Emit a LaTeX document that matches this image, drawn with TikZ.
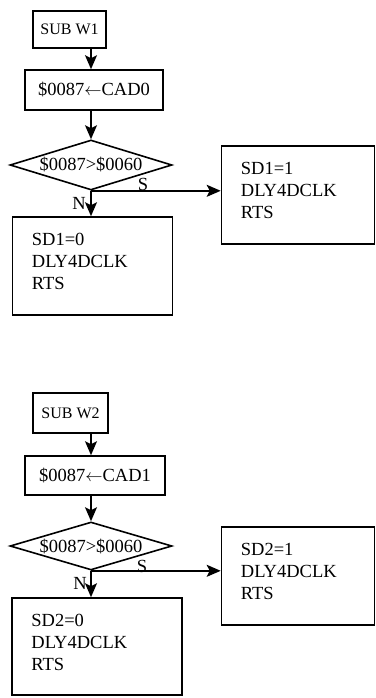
\documentclass[tikz,border=0pt]{standalone}
\usepackage{fontspec}
\setmainfont{Liberation Serif}
\usetikzlibrary{shapes.geometric,arrows.meta}

\tikzset{
  every node/.style={font=\fontsize{18.5}{22}\selectfont},
  procbox/.style={draw, line width=1.6pt, inner sep=0pt},
  subbox/.style={procbox, font=\fontsize{16}{19}\selectfont},
  testbox/.style={draw, diamond, line width=1.6pt, inner sep=0pt, aspect=3.2},
  boxtext/.style={anchor=north west, inner sep=0pt, align=left},
  flow/.style={line width=1.6pt, -{Stealth[length=14pt,width=12pt,inset=3pt]}}
}

\begin{document}
\begin{tikzpicture}[x=1pt, y=-1pt]
                \useasboundingbox (0,0) rectangle (375,698);
                % Routine W1:
                \node[subbox, minimum width=73pt, minimum height=37pt](W1) at (69.5, 29.5){SUB W1};
                \node[procbox, minimum width=138pt, minimum height=40pt](C0) at (94, 90){\$0087$\leftarrow$CAD0};
                \node[testbox, minimum width=162pt, minimum height=50pt](D1) at (91, 165){\$0087>\$0060};
                \node[procbox, minimum width=160pt, minimum height=98pt](N1) at (92.5, 266){};
                \node[boxtext](N1t) at ([shift={(20,17)}]N1.north west){SD1=0\\DLY4DCLK\\RTS};
                \node[procbox, minimum width=153pt, minimum height=98pt](S1) at (298, 195){};
                \node[boxtext](S1t) at ([shift={(20,17)}]S1.north west){SD1=1\\DLY4DCLK\\RTS};
                \node(S1l) at (143, 184){S};
                \node(N1l) at (79, 203){N};
                \draw[flow] (W1.south -| D1.north) -- (C0.north -| D1.north);
                \draw[flow] (C0.south -| D1.north) -- (D1.north);
                \draw[flow] (D1.south) -- (N1.north -| D1.south);
                \draw[flow] (D1.south) -- (S1.west |- D1.south);
                % Routine W2:
                \node[subbox, minimum width=75pt, minimum height=40pt](W2) at (70.5, 413){SUB W2};
                \node[procbox, minimum width=140pt, minimum height=39pt](C1) at (95, 475.5){\$0087$\leftarrow$CAD1};
                \node[testbox, minimum width=162pt, minimum height=48pt](D2) at (91, 546){\$0087>\$0060};
                \node[procbox, minimum width=170pt, minimum height=97pt](N2) at (97, 646.5){};
                \node[boxtext](N2t) at ([shift={(20,17)}]N2.north west){SD2=0\\DLY4DCLK\\RTS};
                \node[procbox, minimum width=153pt, minimum height=98pt](S2) at (298, 576){};
                \node[boxtext](S2t) at ([shift={(20,17)}]S2.north west){SD2=1\\DLY4DCLK\\RTS};
                \node(S2l) at (142, 566){S};
                \node(N2l) at (80, 583){N};
                \draw[flow] (W2.south -| D2.north) -- (C1.north -| D2.north);
                \draw[flow] (C1.south -| D2.north) -- (D2.north);
                \draw[flow] (D2.south) -- (N2.north -| D2.south);
                \draw[flow] (D2.south) -- (S2.west |- D2.south);
            \end{tikzpicture}
\end{document}
